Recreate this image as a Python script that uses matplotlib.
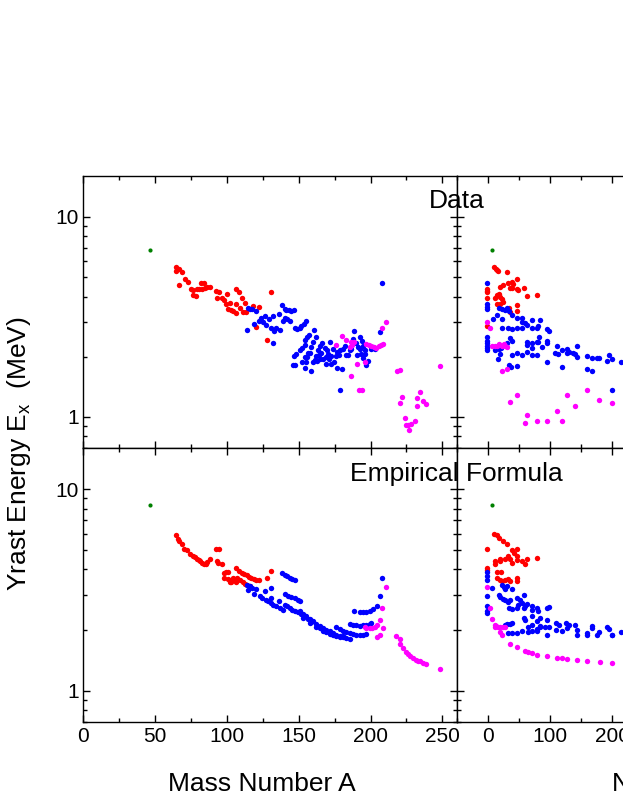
import matplotlib
matplotlib.use("Agg")
import matplotlib.pyplot as plt
from matplotlib.ticker import FixedLocator, MultipleLocator, LogLocator, NullFormatter, FuncFormatter
import numpy as np

plt.rcParams['font.family'] = ['Liberation Sans', 'DejaVu Sans']
plt.rcParams['mathtext.fontset'] = 'custom'
plt.rcParams['mathtext.rm'] = 'Liberation Sans'

#------------------------------------------------------------------
# data : (x, E in MeV)
#------------------------------------------------------------------
# top left : data vs mass number A
green_a_data = [(46.3, 6.82)]
red_a_data = [(64.4, 5.61), (64.8, 5.36), (66.5, 5.47), (68.3, 5.30), (66.5, 4.54), (70.4, 4.88), (72.5, 4.73),
              (74.6, 4.38), (76.0, 4.30), (76.4, 4.07), (78.3, 4.03), (78.8, 4.38), (80.6, 4.38), (82.2, 4.66),
              (84.1, 4.66), (82.9, 4.38), (84.6, 4.43), (86.2, 4.46), (88.0, 4.48), (92.2, 4.24), (94.3, 4.19),
              (92.7, 3.95), (96.2, 3.95), (100.3, 4.11), (98.0, 3.84), (102.0, 3.73), (99.2, 3.66), (100.8, 3.48),
              (102.6, 3.42), (104.2, 3.37), (106.1, 3.30), (106.1, 4.35), (108.4, 4.19), (110.1, 3.92),
              (112.4, 3.70), (106.6, 3.66), (108.9, 3.50), (110.8, 3.33), (113.1, 3.33), (118.2, 3.57),
              (122.3, 3.53), (120.5, 2.82), (128.2, 2.42), (130.3, 4.22)]
blue_a_data = [(114.3, 3.50), (115.9, 3.46), (117.7, 3.46), (120.1, 3.37), (114.0, 2.73), (118.7, 2.91),
               (122.1, 3.03), (124.0, 3.11), (126.3, 3.18), (125.2, 2.97), (127.5, 2.88), (129.3, 3.08),
               (130.3, 2.80), (132.6, 2.70), (132.1, 3.18), (134.4, 2.80), (136.8, 2.73), (136.3, 3.27),
               (138.6, 3.62), (140.2, 3.46), (141.4, 3.42), (143.3, 3.43), (144.9, 3.39), (146.5, 3.42),
               (139.1, 3.03), (140.7, 3.11), (142.1, 3.08), (143.7, 3.03), (147.2, 2.80), (148.8, 2.75),
               (150.7, 2.80), (151.8, 2.86), (153.5, 2.91), (154.9, 3.03), (154.2, 2.43), (155.8, 2.50),
               (157.2, 2.57), (154.2, 2.29), (152.5, 2.20), (150.7, 2.15), (148.4, 2.07), (146.5, 2.01),
               (146.0, 1.81), (147.2, 1.81), (132.1, 2.33), (152.5, 1.88), (154.2, 1.99), (155.3, 1.89),
               (156.5, 2.09), (208.2, 4.66), (160.4, 2.72), (162.3, 2.50), (160.0, 2.38), (158.8, 2.23),
               (157.6, 2.10), (155.8, 1.99), (154.4, 1.76), (158.3, 1.69), (160.0, 1.88), (161.8, 2.01),
               (163.4, 2.15), (165.0, 2.27), (166.4, 2.34), (168.1, 2.20), (169.7, 2.17), (164.1, 2.04),
               (165.7, 2.09), (166.9, 1.95), (162.7, 1.91), (161.1, 1.93), (164.6, 1.95), (168.8, 1.99),
               (170.4, 2.07), (172.0, 2.38), (173.9, 2.19), (172.7, 2.01), (171.1, 1.95), (169.2, 1.84),
               (172.7, 1.83), (175.7, 2.01), (176.6, 2.12), (178.0, 2.03), (174.6, 1.88), (176.6, 1.75),
               (180.4, 1.73), (178.5, 1.36), (179.0, 2.15), (180.8, 2.19), (182.4, 2.26), (183.1, 2.03),
               (184.3, 2.04), (185.5, 2.15), (186.6, 2.19), (188.2, 2.70), (187.8, 2.45), (190.1, 2.34),
               (192.4, 2.50), (194.3, 2.41), (191.3, 2.25), (192.4, 2.19), (194.7, 2.26), (195.9, 2.15),
               (193.6, 2.07), (195.9, 2.07), (190.6, 2.04), (194.7, 1.97), (198.2, 1.91), (197.1, 1.82),
               (200.5, 2.19), (202.9, 2.19), (201.7, 2.23), (206.3, 2.67)]
magenta_a_data = [(180.4, 2.55), (182.7, 2.43), (176.2, 2.29), (185.4, 2.25), (186.6, 2.36), (188.2, 2.38),
                  (187.3, 2.29), (190.6, 1.84), (186.2, 1.61), (192.0, 1.36), (194.3, 1.37), (196.4, 1.89),
                  (197.1, 2.32), (198.9, 2.29), (200.5, 2.26), (202.2, 2.23), (204.0, 2.21), (205.9, 2.26),
                  (207.5, 2.29), (208.7, 2.32), (208.2, 2.80), (210.5, 2.99), (218.4, 1.69), (220.3, 1.72),
                  (248.1, 1.79), (222.1, 1.26), (220.3, 1.17), (224.2, 0.99), (226.1, 0.917), (224.4, 0.91),
                  (227.9, 0.923), (226.5, 0.86), (230.7, 0.96), (232.3, 1.13), (234.6, 1.33), (232.3, 1.25),
                  (236.5, 1.20), (238.3, 1.16)]

# bottom left : empirical formula vs A
green_a_form = [(46.3, 8.32)]
red_a_form = [(64.4, 5.92), (66.0, 5.68), (66.7, 5.53), (68.3, 5.32), (70.2, 5.06), (71.8, 4.99), (74.1, 4.78),
              (76.0, 4.65), (77.6, 4.60), (78.8, 4.51), (80.4, 4.44), (81.5, 4.39), (82.9, 4.31), (84.1, 4.23),
              (85.3, 4.27), (86.2, 4.34), (88.0, 4.51), (92.2, 5.06), (94.5, 5.02), (92.7, 4.39), (93.4, 4.31),
              (96.2, 4.23), (97.8, 3.84), (99.6, 3.86), (100.6, 3.89), (97.8, 3.63), (100.8, 3.59), (103.1, 3.53),
              (102.0, 3.45), (102.7, 3.45), (104.3, 3.63), (106.1, 3.51), (106.6, 3.45), (106.1, 4.07),
              (108.5, 3.92), (110.1, 3.84), (111.7, 3.80), (113.6, 3.73), (115.4, 3.67), (117.0, 3.63),
              (118.7, 3.59), (120.5, 3.56), (122.4, 3.53), (107.1, 3.63), (108.9, 3.53), (110.8, 3.45),
              (112.4, 3.40), (114.0, 3.36), (115.9, 3.31), (128.2, 3.63), (130.3, 3.92)]
blue_a_form = [(113.6, 3.36), (115.9, 3.30), (117.7, 3.24), (120.1, 3.18), (114.3, 3.15), (118.7, 3.03),
               (122.8, 2.94), (124.7, 2.88), (127.0, 2.83), (128.6, 2.78), (130.3, 2.72), (132.1, 2.67),
               (134.4, 2.62), (136.8, 2.57), (139.1, 2.52), (126.3, 3.11), (130.3, 3.24), (130.3, 2.88),
               (136.3, 2.80), (138.6, 3.84), (140.2, 3.77), (141.9, 3.70), (143.7, 3.63), (145.6, 3.59),
               (147.2, 3.56), (140.2, 3.03), (142.6, 2.96), (144.9, 2.92), (147.2, 2.87), (149.5, 2.83),
               (151.1, 2.80), (140.2, 2.67), (141.9, 2.62), (143.7, 2.57), (145.6, 2.52), (147.2, 2.49),
               (149.5, 2.45), (151.8, 2.40), (154.2, 2.35), (156.5, 2.28),
               (150.7, 2.48), (153.0, 2.41), (155.3, 2.34), (157.6, 2.27), (160.0, 2.21), (162.3, 2.15),
               (164.6, 2.10), (166.9, 2.05), (169.2, 2.01), (171.5, 1.97), (173.9, 1.93), (176.2, 1.89),
               (178.5, 1.86), (180.8, 1.84), (183.1, 1.82), (185.5, 1.80),
               (153.0, 2.29), (157.6, 2.17), (162.3, 2.07), (166.9, 1.99), (171.5, 1.92), (176.2, 1.87),
               (180.8, 1.86), (158.8, 2.20), (164.6, 2.04), (169.2, 1.96), (173.9, 1.90), (178.5, 1.84),
               (178.5, 2.02), (180.8, 1.99), (183.1, 1.96), (185.5, 1.93), (187.8, 1.91), (190.1, 1.89),
               (192.4, 1.89), (194.7, 1.90), (196.6, 1.92), (176.2, 2.07),
               (188.2, 2.48), (192.4, 2.45), (194.7, 2.45), (197.1, 2.45), (199.4, 2.48), (201.7, 2.54),
               (204.5, 2.64), (206.3, 2.94), (208.2, 3.63),
               (185.9, 2.15), (187.8, 2.12), (190.1, 2.11), (192.4, 2.10), (194.7, 2.11), (197.1, 2.12),
               (199.4, 2.15), (200.5, 2.18)]
magenta_a_form = [(210.5, 3.26), (208.2, 2.57), (206.3, 2.25), (204.5, 2.13), (202.9, 2.07), (201.2, 2.05),
                  (199.4, 2.04), (197.1, 2.05), (195.9, 2.07), (208.7, 2.05), (206.3, 1.89), (204.5, 1.84),
                  (217.9, 1.87), (220.3, 1.80), (220.7, 1.70), (222.6, 1.63), (224.4, 1.56), (226.1, 1.52),
                  (227.7, 1.48), (229.5, 1.45), (231.4, 1.42), (233.0, 1.41), (234.6, 1.40), (236.5, 1.38),
                  (238.4, 1.36), (248.1, 1.28)]

# top right : data vs NpNn
green_n_data = [(6.5, 6.82)]
red_n_data = [(10.2, 5.62), (12.9, 5.51), (14.5, 5.41), (15.6, 5.36), (30.6, 5.32), (38.6, 4.73), (31.7, 4.66),
              (40.3, 4.60), (46.7, 4.88), (34.9, 4.40), (38.6, 4.43), (46.7, 4.35), (47.8, 4.30), (58.5, 4.40),
              (62.8, 4.03), (78.8, 4.06), (19.9, 4.48), (23.6, 4.55), (-1.6, 4.38), (-1.6, 4.27), (-1.6, 4.19),
              (-1.6, 3.92), (11.8, 3.95), (14.5, 4.08), (17.2, 4.11), (19.9, 3.98), (22.6, 3.88), (24.2, 3.76),
              (15.1, 3.66), (18.8, 3.66), (34.3, 3.50), (46.7, 3.63), (46.7, 3.39), (34.9, 3.36), (-1.6, 2.84)]
blue_n_data = [(-1.6, 4.69), (-1.6, 3.66), (-1.6, 3.56), (-1.6, 3.46), (-1.6, 2.50), (-1.6, 2.41), (-1.6, 2.33),
               (-1.6, 2.27), (-1.6, 2.21), (-1.6, 2.16), (18.3, 3.50), (22.6, 3.46), (26.8, 3.43), (30.6, 3.50),
               (33.3, 3.39), (7.5, 3.08), (22.6, 3.08), (14.5, 3.23), (38.6, 3.23), (46.7, 3.11), (54.7, 3.11),
               (54.7, 2.97), (59.0, 2.94), (62.7, 2.88), (70.8, 3.06), (70.8, 2.78), (78.8, 2.80), (80.4, 2.86),
               (84.2, 3.06), (22.6, 2.78), (32.2, 2.80), (38.6, 2.75), (46.7, 2.80), (54.7, 2.80), (94.9, 2.75),
               (98.7, 2.68), (81.5, 2.50), (80.4, 2.36), (94.9, 2.41), (94.9, 2.34), (34.9, 2.47), (38.6, 2.39),
               (30.6, 2.33), (25.2, 2.29), (21.5, 2.20), (18.3, 2.19), (10.8, 2.15), (62.7, 2.36), (70.8, 2.34),
               (78.8, 2.36), (70.8, 2.22), (86.9, 2.23), (62.7, 2.29), (46.7, 2.08), (54.7, 2.04), (38.6, 2.04),
               (70.8, 2.05), (78.8, 2.03), (62.7, 2.12), (19.9, 2.07), (16.1, 1.94), (94.9, 1.88), (33.3, 1.81),
               (37.6, 1.77), (46.7, 1.79), (111.0, 2.27), (107.2, 2.10), (119.1, 2.15), (127.1, 2.19),
               (127.1, 2.10), (129.8, 2.12), (136.7, 2.10), (140.5, 2.07), (143.2, 2.27), (143.2, 1.99),
               (119.1, 1.77), (112.6, 2.07), (159.2, 2.01), (167.3, 1.97), (175.3, 1.97), (179.1, 1.97),
               (195.2, 2.04), (191.4, 1.90), (199.4, 1.94), (214.4, 1.88), (159.2, 1.73), (167.3, 1.69),
               (199.4, 1.37)]
magenta_n_data = [(-1.6, 3.00), (3.8, 2.80), (6.5, 2.26), (10.8, 2.27), (14.5, 2.26), (18.3, 2.29), (22.6, 2.27),
                  (26.8, 2.26), (30.6, 2.23), (17.2, 2.32), (25.2, 2.32), (22.6, 1.69), (30.6, 1.73), (46.7, 1.29),
                  (34.9, 1.19), (62.7, 1.02), (59.0, 0.93), (78.8, 0.95), (94.9, 0.95), (111.0, 1.07),
                  (119.1, 0.96), (127.1, 1.29), (139.4, 1.13), (159.2, 1.37), (179.1, 1.22), (199.4, 1.18)]

# bottom right : empirical formula vs NpNn
green_n_form = [(6.5, 8.32)]
red_n_form = [(10.2, 5.97), (14.5, 5.90), (17.2, 5.74), (23.6, 5.53), (30.6, 5.32), (-1.6, 5.02), (38.6, 4.99),
              (46.7, 5.06), (32.2, 4.65), (35.9, 4.51), (38.6, 4.31), (46.7, 4.65), (46.7, 4.43), (54.7, 4.40),
              (59.0, 4.26), (62.7, 4.48), (78.8, 4.56), (19.9, 4.40), (19.9, 4.51), (10.8, 4.40), (10.8, 4.26),
              (27.9, 4.48), (41.3, 4.83), (14.5, 3.87), (21.5, 3.87), (14.5, 3.63), (18.8, 3.56), (22.6, 3.49),
              (26.8, 3.53), (32.2, 3.59), (35.9, 3.49), (46.7, 3.63), (46.7, 3.49), (-1.6, 4.07), (-1.6, 3.96)]
blue_n_form = [(-1.6, 3.87), (-1.6, 3.70), (-1.6, 3.56), (-1.6, 2.94), (-1.6, 2.64), (-1.6, 2.48), (-1.6, 2.43),
               (6.5, 3.24), (22.6, 3.36), (25.2, 3.27), (26.8, 3.18), (30.6, 3.30), (38.6, 3.20), (17.2, 3.00),
               (19.9, 2.92), (23.6, 2.85), (27.9, 2.81), (32.2, 2.75), (35.9, 2.83), (38.6, 2.54), (33.3, 2.57),
               (46.7, 2.89), (52.0, 2.83), (48.3, 2.67), (57.4, 3.00), (54.7, 2.72), (60.1, 2.62), (62.7, 2.70),
               (57.4, 2.57), (70.8, 2.62), (70.8, 2.52), (78.8, 2.57), (80.4, 2.48), (94.9, 2.57), (97.6, 2.60),
               (46.7, 2.57), (57.4, 2.29), (60.1, 2.25), (70.8, 2.34), (84.2, 2.29), (78.8, 2.23), (94.9, 2.25),
               (84.2, 2.10), (70.8, 2.12), (64.4, 2.07), (78.8, 2.03), (92.2, 2.07), (97.6, 2.08), (54.7, 1.97),
               (46.7, 1.94), (38.6, 1.94), (32.2, 1.94), (64.4, 1.95), (70.8, 1.99), (78.8, 1.99), (84.2, 2.07),
               (94.9, 1.88), (30.6, 2.15), (35.9, 2.15), (38.6, 2.16), (27.9, 2.12), (109.4, 2.18), (109.4, 2.00),
               (113.7, 2.12), (119.0, 1.97), (125.5, 2.18), (127.1, 2.04), (129.8, 2.12), (139.4, 2.12),
               (143.2, 2.00), (143.2, 1.88), (159.2, 1.88), (159.2, 1.94), (167.3, 2.10), (167.3, 2.04),
               (175.3, 1.89), (179.1, 1.95), (191.4, 2.08), (195.2, 2.03), (199.4, 1.89), (199.4, 1.88),
               (214.4, 1.95)]
magenta_n_form = [(-1.6, 3.27), (3.8, 2.57), (6.5, 2.28), (10.8, 2.12), (12.9, 2.10), (16.1, 2.07), (19.9, 2.06),
                  (23.6, 2.07), (27.9, 2.08), (11.8, 2.07), (22.6, 1.89), (19.9, 1.95), (35.9, 1.71), (46.7, 1.64),
                  (59.0, 1.58), (64.4, 1.55), (70.8, 1.54), (78.8, 1.51), (94.9, 1.48), (111.0, 1.46),
                  (119.1, 1.45), (127.1, 1.43), (143.2, 1.42), (159.2, 1.41), (179.2, 1.39), (198.5, 1.37)]


#------------------------------------------------------------------
# figure
#------------------------------------------------------------------
fig = plt.figure(figsize=(6.23, 8.06), dpi=100)

W = 0.599
ax_tl = fig.add_axes([0.134, 0.4442, W, 0.3374])
ax_bl = fig.add_axes([0.134, 0.1042, W, 0.3400])
ax_tr = fig.add_axes([0.7335, 0.4442, W, 0.3374])
ax_br = fig.add_axes([0.7335, 0.1042, W, 0.3400])

panels = [
    (ax_tl, [green_a_data, red_a_data, blue_a_data, magenta_a_data]),
    (ax_bl, [green_a_form, red_a_form, blue_a_form, magenta_a_form]),
    (ax_tr, [green_n_data, red_n_data, blue_n_data, magenta_n_data]),
    (ax_br, [green_n_form, red_n_form, blue_n_form, magenta_n_form]),
]
colors = ['#008000', '#ff0000', '#0000ff', '#ff00ff']
sizes = [9, 15, 15, 15]

for ax, series in panels:
    for pts, c, s in zip(series, colors, sizes):
        arr = np.array(pts)
        ax.scatter(arr[:, 0], arr[:, 1], s=s, color=c, linewidths=0, zorder=3)
    ax.set_yscale('log')
    ax.set_ylim(0.7, 16)
    ax.yaxis.set_major_locator(FixedLocator([1, 10]))
    ax.yaxis.set_minor_locator(LogLocator(base=10, subs=np.arange(2, 10)))
    ax.yaxis.set_minor_formatter(NullFormatter())
    ax.yaxis.set_major_formatter(FuncFormatter(lambda v, p: '%g' % v))
    ax.tick_params(which='both', direction='in', top=True, right=True, labelsize=15, width=1)
    ax.tick_params(which='major', length=5)
    ax.tick_params(which='minor', length=3)
    for sp in ax.spines.values():
        sp.set_linewidth(1.0)

for ax in (ax_tl, ax_bl):
    ax.set_xlim(0, 260)
    ax.xaxis.set_major_locator(MultipleLocator(50))
    ax.xaxis.set_minor_locator(MultipleLocator(25))
for ax in (ax_tr, ax_br):
    ax.set_xlim(-50, 550)
    ax.xaxis.set_major_locator(MultipleLocator(100))
    ax.xaxis.set_minor_locator(MultipleLocator(50))
    ax.tick_params(labelleft=False)
for ax in (ax_tl, ax_tr):
    ax.tick_params(labelbottom=False)

# texts
fig.text(457 / 623, 1 - 208 / 806, 'Data', ha='center', va='baseline', fontsize=19)
fig.text(456 / 623, 1 - 481 / 806, 'Empirical Formula', ha='center', va='baseline', fontsize=19)
fig.text(262 / 623, 1 - 791 / 806, 'Mass Number A', ha='center', va='baseline', fontsize=19)
fig.text(611 / 623, 1 - 791 / 806, r'N$_\mathrm{p}$N$_\mathrm{n}$', ha='left', va='baseline', fontsize=19)
fig.text(19 / 623, 1 - 454 / 806, r'Yrast Energy E$_\mathrm{x}$  (MeV)', rotation=90,
         ha='center', va='center', fontsize=19)

fig.savefig('out.png', dpi=100)
